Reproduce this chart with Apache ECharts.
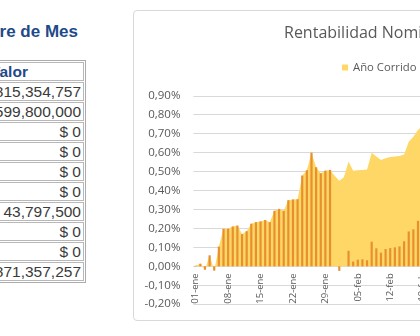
<!DOCTYPE html>
<html>
<head>
<meta charset="utf-8">
<script src="https://cdn.jsdelivr.net/npm/echarts@6.0.0/dist/echarts.min.js"></script>
<style>
  html, body { margin:0; padding:0; width:420px; height:336px; overflow:hidden; background:#fff; }
  #frame { position:absolute; left:133px; top:10px; width:400px; height:311px; border:1px solid #D9D9D9; border-radius:4px; box-sizing:border-box; background:#fff; }
  #chart { position:absolute; left:0; top:0; width:420px; height:336px; }
  #ttl { position:absolute; right:342px; top:22px; line-height:20px; white-space:nowrap; font:bold 17px "Liberation Sans", Arial, sans-serif; color:#1F4A8A; }
  #tbl { position:absolute; left:-130px; top:60px; width:216px; border:1px solid #ABABAB; padding:1px 1px 0 1px; box-sizing:border-box; background:#fff; }
  .row { display:flex; height:19px; margin-bottom:1px; }
  .c1 { width:95px; flex:none; border:1px solid #B8B8B8; box-sizing:border-box; margin-right:1px; }
  .c2 { flex:1; border:1px solid #B8B8B8; box-sizing:border-box; text-align:right; padding-right:2px; font:15.5px "Liberation Sans", Arial, sans-serif; line-height:17px; color:#3A3A3A; white-space:nowrap; overflow:hidden; }
  .hd { text-align:left; padding-left:21px; font-weight:bold; color:#1F4A8A; }
</style>
</head>
<body>
<div id="ttl">Cierre de Mes</div>
<div id="tbl"></div>
<div id="frame"></div>
<div id="chart"></div>
<script>
// ---- table data ----
const tableTitle = 'Cierre de Mes';
const tableHeader = ['Concepto', 'Valor'];
const tableValues = ['$ 815,354,757', '$ 599,800,000', '$ 0', '$ 0', '$ 0', '$ 0', '$ 43,797,500', '$ 0', '$ 0', '$ 871,357,257'];

// ---- chart data ----
const chartTitle = 'Rentabilidad Nominal';
const seriesNames = ['Año Corrido', 'Mensual'];
const dates = [
  '01-ene','02-ene','03-ene','04-ene','05-ene','06-ene','07-ene','08-ene','09-ene','10-ene',
  '11-ene','12-ene','13-ene','14-ene','15-ene','16-ene','17-ene','18-ene','19-ene','20-ene',
  '21-ene','22-ene','23-ene','24-ene','25-ene','26-ene','27-ene','28-ene','29-ene','30-ene','31-ene',
  '01-feb','02-feb','03-feb','04-feb','05-feb','06-feb','07-feb','08-feb','09-feb','10-feb',
  '11-feb','12-feb','13-feb','14-feb','15-feb','16-feb','17-feb','18-feb','19-feb','20-feb',
  '21-feb','22-feb','23-feb','24-feb','25-feb','26-feb','27-feb','28-feb'
];
// values in percent
const anoCorrido = [
  0.003, 0.014, -0.018, 0.058, -0.023, 0.104, 0.198, 0.198, 0.210, 0.215,
  0.170, 0.185, 0.225, 0.233, 0.237, 0.244, 0.233, 0.293, 0.303, 0.293,
  0.349, 0.353, 0.354, 0.479, 0.507, 0.600, 0.523, 0.491, 0.505, 0.509, 0.478,
  0.451, 0.470, 0.553, 0.505, 0.507, 0.509, 0.511, 0.600, 0.579, 0.561,
  0.570, 0.577, 0.579, 0.582, 0.590, 0.658, 0.684, 0.719, 0.745
];
const mensual = [
  0.003, 0.014, -0.018, 0.058, -0.023, 0.104, 0.198, 0.198, 0.210, 0.215,
  0.170, 0.185, 0.225, 0.233, 0.237, 0.244, 0.233, 0.293, 0.303, 0.293,
  0.349, 0.353, 0.354, 0.479, 0.507, 0.600, 0.523, 0.491, 0.505, 0.509, null,
  -0.024, null, 0.082, 0.025, 0.035, 0.037, 0.032, 0.130, 0.095, 0.072,
  0.091, 0.096, 0.100, 0.105, 0.132, 0.184, 0.195, 0.240, 0.270
];
const yMin = -0.2, yMax = 0.9, yStep = 0.1;

// ---- build table ----
(function(){
  const t = document.getElementById('tbl');
  document.getElementById('ttl').textContent = tableTitle;
  let html = '<div class="row"><div class="c1"></div><div class="c2 hd">' + tableHeader[1] + '</div></div>';
  tableValues.forEach(v => { html += '<div class="row"><div class="c1"></div><div class="c2">' + v + '</div></div>'; });
  t.innerHTML = html;
})();

// ---- chart ----
const chart = echarts.init(document.getElementById('chart'), null, {renderer:'canvas'});
const catW = 4.631;
const gridTop = 95.8, gridH = 208.4;
const zeroOffset = gridH * (0 - yMin) / (yMax - yMin);
const font = '"Open Sans", sans-serif';
chart.setOption({
  animation:false,
  backgroundColor:'transparent',
  title:{
    text: chartTitle, left:284, top:25, padding:0,
    textStyle:{ fontFamily:font, fontSize:16, fontWeight:'normal', color:'#595959' }
  },
  legend:{
    data: seriesNames, left:342, top:62, padding:0, width:600, orient:'horizontal',
    icon:'rect', itemWidth:6, itemHeight:6, itemGap:14,
    textStyle:{ fontFamily:font, fontSize:11.3, color:'#595959' }
  },
  grid:{ left:193.4, top:gridTop, width: catW*dates.length, height:gridH, outerBoundsMode:'none', containLabel:false },
  xAxis:{
    type:'category', data:dates, boundaryGap:true, offset: -zeroOffset,
    axisLine:{ onZero:false, lineStyle:{ color:'#D9D9D9' } },
    axisTick:{ show:false },
    axisLabel:{ interval:6, rotate:90, margin:7, fontFamily:font, fontSize:9.5, color:'#595959' }
  },
  yAxis:{
    type:'value', min:yMin, max:yMax, interval:yStep,
    axisLine:{ show:false }, axisTick:{ show:false },
    splitLine:{ lineStyle:{ color:'#D9D9D9', width:1 } },
    axisLabel:{ margin:13, fontFamily:font, fontSize:11.5, color:'#595959',
      formatter: v => v.toFixed(2).replace('.', ',') + '%' }
  },
  series:[
    { name:seriesNames[0], type:'line', data:anoCorrido, symbol:'none',
      itemStyle:{ color:'#FED766' }, lineStyle:{ width:0, color:'#FED766' },
      areaStyle:{ color:'#FED766', opacity:1 }, z:1 },
    { name:seriesNames[1], type:'bar', data:mensual, barWidth:2.2,
      itemStyle:{ color:'#E8902F' }, z:2 }
  ]
});
</script>
</body>
</html>
